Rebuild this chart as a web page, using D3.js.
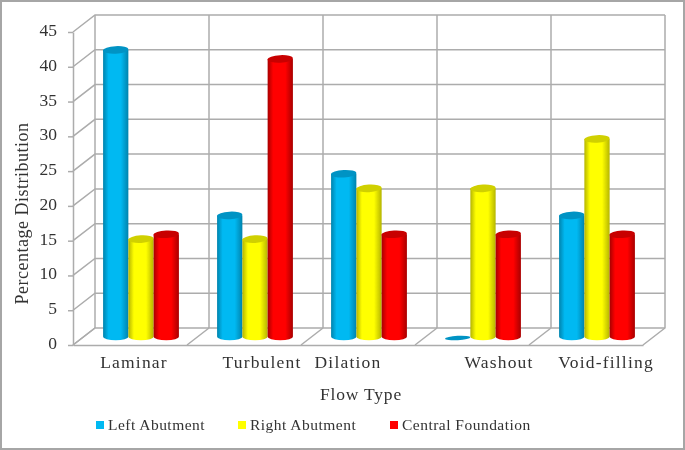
<!DOCTYPE html>
<html>
<head>
<meta charset="utf-8">
<style>
  html, body { margin: 0; padding: 0; background: #fff; }
  svg { display: block; }
  text { font-family: "Liberation Serif", serif; fill: #333; }
  .grid { stroke: #acacac; stroke-width: 1.5; fill: none; }
  .axis text { font-size: 17.5px; fill: #333; }
  .axis path, .axis line { stroke: #acacac; stroke-width: 1.5; }
</style>
<script src="https://cdn.jsdelivr.net/npm/d3@7"></script>
</head>
<body>
<div id="chart"></div>
<script>
const categories = ['Laminar', 'Turbulent', 'Dilation', 'Washout', 'Void-filling'];
const seriesNames = ['Left Abutment', 'Right Abutment', 'Central Foundation'];
const leftAbutment = [41.2, 17.4, 23.4, 0, 17.4];
const rightAbutment = [14, 14, 21.3, 21.3, 28.4];
const centralFoundation = [14.7, 39.9, 14.7, 14.7, 14.7];
const yTicks = [0, 5, 10, 15, 20, 25, 30, 35, 40, 45];

const seriesValues = [leftAbutment, rightAbutment, centralFoundation];
const colors = [
  { edge: '#0083ad', mid: '#00b9f2', top: '#0093c4' },
  { edge: '#b5b500', mid: '#ffff00', top: '#d0d000' },
  { edge: '#a80000', mid: '#ff0000', top: '#c80000' },
];

const width = 685;
const height = 450;
const margin = { left: 73, right: 42, top: 32, bottom: 105 };
const depth = { x: 22, y: 17 };

// category labels in the picture are not centred under their bands
const labelShift = [4, 18, -10, 27, 20];

const svg = d3.select('#chart').append('svg').attr('width', width).attr('height', height);
const defs = svg.append('defs');

defs.append('filter').attr('id', 'soft').append('feGaussianBlur').attr('stdDeviation', 0.5);

colors.forEach((c, i) => {
  const g = defs.append('linearGradient').attr('id', `cyl-${i}`);
  g.append('stop').attr('offset', '0%').attr('stop-color', c.edge);
  g.append('stop').attr('offset', '22%').attr('stop-color', c.mid);
  g.append('stop').attr('offset', '70%').attr('stop-color', c.mid);
  g.append('stop').attr('offset', '100%').attr('stop-color', c.edge);
});

const root = svg.append('g').attr('filter', 'url(#soft)');

// outer frame
root.append('rect')
  .attr('x', 1).attr('y', 1)
  .attr('width', width - 2).attr('height', height - 2)
  .attr('fill', '#fff').attr('stroke', '#a6a6a6').attr('stroke-width', 2);

const innerW = width - margin.left - margin.right;
const x = d3.scaleBand().domain(categories).range([margin.left, margin.left + innerW]);
const y = d3.scaleLinear().domain([0, 45]).range([height - margin.bottom, margin.top]);
const xSeries = d3.scaleBand().domain(seriesNames).range([0, x.bandwidth() * 0.665]);

const x0 = margin.left;
const x1 = margin.left + innerW;

// back wall and side wall grid
const walls = root.append('g').attr('class', 'walls');
yTicks.forEach(t => {
  walls.append('path').attr('class', 'grid')
    .attr('d', `M${x0},${y(t)}L${x0 + depth.x},${y(t) - depth.y}L${x1 + depth.x},${y(t) - depth.y}`);
});
categories.forEach(c => {
  const bx = x(c) + depth.x;
  walls.append('line').attr('class', 'grid')
    .attr('x1', bx).attr('x2', bx)
    .attr('y1', y(45) - depth.y).attr('y2', y(0) - depth.y);
  walls.append('line').attr('class', 'grid')
    .attr('x1', x(c)).attr('x2', bx)
    .attr('y1', y(0)).attr('y2', y(0) - depth.y);
});
walls.append('path').attr('class', 'grid')
  .attr('d', `M${x1},${y(0)}L${x1 + depth.x},${y(0) - depth.y}V${y(45) - depth.y}`);

// axes
const yAxis = root.append('g')
  .attr('class', 'axis')
  .attr('transform', `translate(${x0},0)`)
  .call(d3.axisLeft(y).tickValues(yTicks).tickSize(5).tickSizeOuter(0).tickPadding(11));
yAxis.selectAll('text').attr('dy', '0.2em');

const xAxis = root.append('g')
  .attr('class', 'axis')
  .attr('transform', `translate(0,${y(0)})`)
  .call(d3.axisBottom(x).tickSize(0).tickPadding(11));
xAxis.selectAll('text')
  .style('letter-spacing', '1.2px')
  .attr('dx', (d, i) => labelShift[i]);

// cylinders stand half way into the floor depth
const groupOffset = (x.bandwidth() - xSeries.range()[1]) / 2 + depth.x / 2;
const floorShift = depth.y / 2;
const rx = xSeries.bandwidth() / 2;
const ry = 3.8;

seriesNames.forEach((name, s) => {
  const g = root.append('g').attr('class', 'series');
  categories.forEach((c, i) => {
    const v = seriesValues[s][i];
    const left = x(c) + groupOffset + xSeries(name);
    const cx = left + rx;
    const bottom = y(0) - floorShift;
    const top = y(v) - floorShift;
    if (v > 0) {
      g.append('path')
        .attr('d', `M${left},${top}V${bottom}A${rx},${ry} 0 0 0 ${left + 2 * rx},${bottom}V${top}Z`)
        .attr('fill', `url(#cyl-${s})`);
    }
    // a zero value still shows as a flat disc on the floor
    g.append('ellipse')
      .attr('transform', `translate(${cx},${v > 0 ? top : top + 1.5}) rotate(-3)`)
      .attr('rx', rx).attr('ry', v > 0 ? ry : ry - 1.6)
      .attr('fill', colors[s].top);
  });
});

// axis titles
root.append('text')
  .attr('x', 361).attr('y', 400)
  .attr('text-anchor', 'middle')
  .style('font-size', '17.5px')
  .style('letter-spacing', '0.8px')
  .text('Flow Type');

root.append('text')
  .attr('transform', 'translate(28,213.5) rotate(-90)')
  .attr('text-anchor', 'middle')
  .style('font-size', '18px')
  .style('letter-spacing', '0.5px')
  .text('Percentage Distribution');

// legend
const legendX = d3.scaleOrdinal().domain(seriesNames).range([96, 238, 390]);
const legend = root.append('g').selectAll('g')
  .data(seriesNames)
  .enter()
  .append('g')
  .attr('transform', d => `translate(${legendX(d)},425)`);
legend.append('rect')
  .attr('x', 0).attr('y', -4)
  .attr('width', 8).attr('height', 8)
  .attr('fill', (d, i) => colors[i].mid);
legend.append('text')
  .attr('x', 12).attr('y', 5)
  .style('font-size', '15.5px')
  .style('letter-spacing', '0.48px')
  .text(d => d);
</script>
</body>
</html>
